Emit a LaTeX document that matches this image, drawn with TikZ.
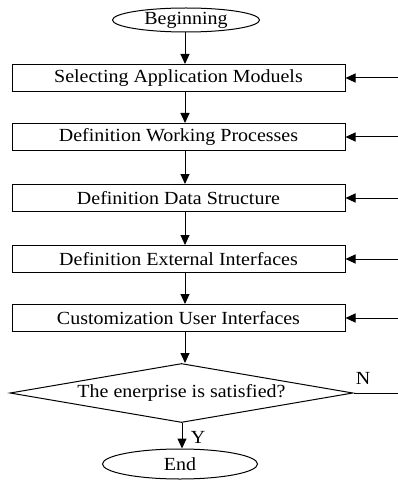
\documentclass[tikz,border=0pt]{standalone}
\usepackage{fontspec}
\setmainfont[FakeStretch=1.08]{Liberation Serif}
\usetikzlibrary{shapes.geometric,arrows.meta}
\begin{document}
\begin{tikzpicture}[x=1pt,y=-1pt,
  txt/.style={font=\fontsize{18.5}{20}\selectfont},
  stepbox/.style={txt,draw,line width=1pt,minimum width=333pt,minimum height=27pt,inner sep=0pt},
  term/.style={txt,draw,line width=1pt,ellipse,inner sep=0pt},
  decide/.style={txt,draw,line width=1pt,diamond,aspect=5.8,inner sep=0pt,minimum width=343pt,minimum height=59pt},
  arr/.style={-{Triangle[length=10pt,width=9pt]},line width=1pt}]
\useasboundingbox (0,0) rectangle (398,481);
\node[term,minimum width=147pt,minimum height=24pt] (begin) at (186,20) {Beginning};
\node[stepbox] (s1) at (178.5,78) {Selecting Application Moduels};
\node[stepbox] (s2) at (178.5,137) {Definition Working Processes};
\node[stepbox] (s3) at (178.5,198) {Definition Data Structure};
\node[stepbox] (s4) at (178.5,259) {Definition External Interfaces};
\node[stepbox] (s5) at (178.5,318) {Customization User Interfaces};
\node[decide] (d) at (181.5,393) {The enerprise is satisfied?};
\node[term,minimum width=155pt,minimum height=30pt] (end) at (180,464) {End};
\coordinate (r1) at (398,78);
\coordinate (r2) at (398,137);
\coordinate (r3) at (398,198);
\coordinate (r4) at (398,259);
\coordinate (r5) at (398,318);
\coordinate (rd) at (398,393);
\draw[arr] (begin.south -| 185,0) -- (s1.north -| 185,0);
\draw[arr] (s1.south -| 185,0) -- (s2.north -| 185,0);
\draw[arr] (s2.south -| 185,0) -- (s3.north -| 185,0);
\draw[arr] (s3.south -| 185,0) -- (s4.north -| 185,0);
\draw[arr] (s4.south -| 185,0) -- (s5.north -| 185,0);
\draw[arr] (s5.south -| 185,0) -- (d.north -| 185,0);
\draw[arr] (d.south -| 182,0) -- (end.north -| 182,0);
\draw[arr] (r1) -- (s1.east);
\draw[arr] (r2) -- (s2.east);
\draw[arr] (r3) -- (s3.east);
\draw[arr] (r4) -- (s4.east);
\draw[arr] (r5) -- (s5.east);
\draw[line width=1pt] (d.east) -- (rd);
\node[txt] (n) at (363,378) {N};
\node[txt] (y) at (198,437) {Y};
\end{tikzpicture}
\end{document}
